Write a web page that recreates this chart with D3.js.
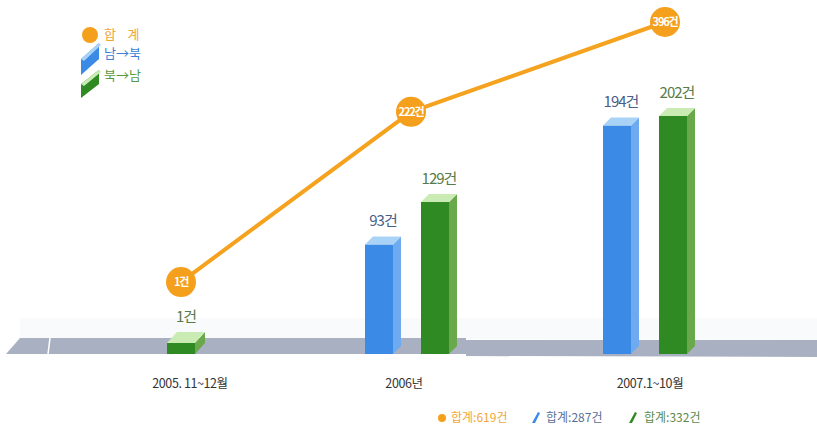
<!DOCTYPE html>
<html>
<head>
<meta charset="utf-8">
<script src="https://cdn.jsdelivr.net/npm/d3@7"></script>
<style>
body { margin: 0; background: #fff; }
svg text { font-family: "Noto Sans CJK KR", "Noto Sans", sans-serif; }
</style>
</head>
<body>
<svg class="svg" width="817" height="425"></svg>
<script>
var categories = ['2005. 11~12월', '2006년', '2007.1~10월'];
var southNorth = [0, 93, 194];     // 남→북
var northSouth = [1, 129, 202];    // 북→남
var totals = [1, 222, 396];        // 합계
var seriesNames = ['합    계', '남→북', '북→남'];

var svg = d3.select('.svg');
var baseY = 354;

var x = d3.scalePoint()
    .domain(categories)
    .range([180, 656]);

var yBar = d3.scaleLinear()
    .domain([0, 202])
    .range([baseY, 116]);

// the total line is drawn on its own compressed scale
var yLine = d3.scalePow()
    .exponent(0.72)
    .domain([0, 396])
    .range([285.6, 22]);

// floor band
svg.append('polygon')
    .attr('points', '20,318 817,318 817,340 20,338')
    .attr('fill', '#f8fafc');
svg.append('polygon')
    .attr('points', '20,338 466,338 466,354 6,354')
    .attr('fill', '#a9b0c2');
svg.append('polygon')
    .attr('points', '466,340 817,340 817,357 466,356')
    .attr('fill', '#a9b0c2');
svg.append('line')
    .attr('x1', 50).attr('x2', 48)
    .attr('y1', 338).attr('y2', 354)
    .attr('stroke', '#fff').attr('stroke-width', 1.5);

var colors = {
    blue: {front: '#3a8ae6', side: '#6eaaf0', top: '#a9d3f6', text: '#4a5f88'},
    green: {front: '#2f8a24', side: '#6aa84c', top: '#cbebb4', text: '#587a48'}
};

var bars = [];
categories.forEach((c, i) => {
    var cx = x(c);
    if (southNorth[i] > 0) {
        bars.push({x: cx - 53, v: southNorth[i], col: colors.blue});
        bars.push({x: cx + 3, v: northSouth[i], col: colors.green});
    } else {
        bars.push({x: cx - 13, v: northSouth[i], col: colors.green});
    }
});

var w = 28, dx = 8, dy = 8;
var g = svg.append('g');
bars.forEach((b) => {
    var yt = Math.min(yBar(b.v), baseY - 11);
    var dd = b.v < 10 ? 11 : dy;
    var ddx = b.v < 10 ? 10 : dx;
    g.append('rect')
        .attr('x', b.x).attr('y', yt)
        .attr('width', w).attr('height', baseY - yt)
        .attr('fill', b.col.front);
    g.append('polygon')
        .attr('points', [[b.x + w, yt], [b.x + w + ddx, yt - dd], [b.x + w + ddx, baseY - dd], [b.x + w, baseY]].join(' '))
        .attr('fill', b.col.side);
    g.append('polygon')
        .attr('points', [[b.x, yt], [b.x + w, yt], [b.x + w + ddx, yt - dd], [b.x + ddx, yt - dd]].join(' '))
        .attr('fill', b.col.top);
    g.append('text')
        .attr('x', b.x + (w + ddx) / 2)
        .attr('y', yt - dd - 10)
        .attr('text-anchor', 'middle')
        .attr('font-size', 15)
        .attr('letter-spacing', -1)
        .attr('fill', b.col.text)
        .text(b.v + '건');
});

// total line
var lineData = categories.map((c, i) => ({c: c, v: totals[i]}));
var lineOffsets = [1, -7, 9];
var line = d3.line()
    .x((d, i) => x(d.c) + lineOffsets[i])
    .y((d) => yLine(d.v));

svg.append('path')
    .datum(lineData)
    .attr('d', line)
    .attr('fill', 'none')
    .attr('stroke', '#f5a21e')
    .attr('stroke-width', 4);

var dots = svg.selectAll('.dot')
    .data(lineData)
    .enter().append('g')
    .attr('transform', (d, i) => 'translate(' + (x(d.c) + lineOffsets[i]) + ',' + yLine(d.v) + ')');
dots.append('circle')
    .attr('r', 15)
    .attr('fill', '#f5a01c');
dots.append('text')
    .attr('y', 4)
    .attr('text-anchor', 'middle')
    .attr('font-size', 11)
    .attr('font-weight', 'bold')
    .attr('letter-spacing', -1.2)
    .attr('fill', '#fff')
    .text((d) => d.v + '건');

// category labels
var catOffsets = [10, -14, -6];
svg.selectAll('.cat')
    .data(categories)
    .enter().append('text')
    .attr('x', (d, i) => x(d) + catOffsets[i])
    .attr('y', 388)
    .attr('text-anchor', 'middle')
    .attr('font-size', 12.5)
    .attr('letter-spacing', -0.4)
    .attr('fill', '#333')
    .text((d) => d);

// top-left legend
var legend = svg.append('g');
legend.append('circle').attr('cx', 90).attr('cy', 35).attr('r', 8).attr('fill', '#f5a01c');
legend.append('text').attr('x', 104).attr('y', 39).attr('font-size', 13)
    .attr('fill', '#f0a53a').attr('xml:space', 'preserve').text(seriesNames[0]);
legend.append('polygon').attr('points', '81,59 99,43 99,59 81,75').attr('fill', colors.blue.front);
legend.append('polygon').attr('points', '81,59 99,43 101,45 84,61').attr('fill', colors.blue.top);
legend.append('text').attr('x', 104).attr('y', 58).attr('font-size', 13)
    .attr('fill', '#3b7fd6').text(seriesNames[1]);
legend.append('polygon').attr('points', '81,84 99,70 99,84 81,98').attr('fill', colors.green.front);
legend.append('polygon').attr('points', '81,84 99,70 101,72 84,86').attr('fill', colors.green.top);
legend.append('text').attr('x', 104).attr('y', 80).attr('font-size', 13)
    .attr('fill', '#5a9a40').text(seriesNames[2]);

// bottom summary
var sums = [d3.sum(totals), d3.sum(southNorth), d3.sum(northSouth)];
var bottom = svg.append('g');
bottom.append('circle').attr('cx', 442).attr('cy', 418).attr('r', 4).attr('fill', '#f5a01c');
bottom.append('text').attr('x', 451).attr('y', 422).attr('font-size', 12)
    .attr('fill', '#f0a53a').text('합계:' + sums[0] + '건');
bottom.append('polygon').attr('points', '532,423 538,412 540,413 535,423').attr('fill', colors.blue.front);
bottom.append('text').attr('x', 546).attr('y', 422).attr('font-size', 12)
    .attr('fill', '#5a6f95').text('합계:' + sums[1] + '건');
bottom.append('polygon').attr('points', '629,423 635,412 637,413 632,423').attr('fill', colors.green.front);
bottom.append('text').attr('x', 644).attr('y', 422).attr('font-size', 12)
    .attr('fill', '#5a8a4a').text('합계:' + sums[2] + '건');
</script>
</body>
</html>
